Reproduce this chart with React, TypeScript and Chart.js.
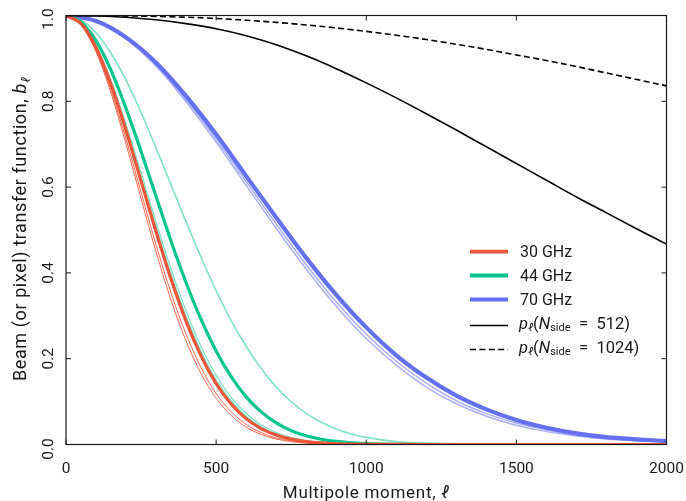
import React, { useEffect, useRef } from "react";
import { Chart, registerables } from "chart.js";

Chart.register(...registerables);

// ---------- data ----------
const ellFine = [0, 50, 100, 150, 200, 250, 300, 350, 400, 450, 500, 550, 600, 650, 700, 750, 800, 850, 900, 950, 1000, 1100, 1200, 1300, 1400, 1600, 1800, 2000];
const ellCoarse = [0, 100, 200, 300, 400, 500, 600, 700, 800, 900, 1000, 1100, 1200, 1300, 1400, 1500, 1600, 1700, 1800, 1900, 2000];

// 30 GHz (thick = average, thin = individual horns)
const b30 = [1, 0.981, 0.925, 0.839, 0.732, 0.614, 0.496, 0.385, 0.287, 0.206, 0.142, 0.0945, 0.0603, 0.0371, 0.0219, 0.0124, 0.0068, 0.0036, 0.0018, 0.0009, 0.0004, 0.0001, 0, 0, 0, 0, 0, 0];
const b30a = [1, 0.979, 0.919, 0.826, 0.712, 0.588, 0.465, 0.353, 0.257, 0.179, 0.119, 0.0764, 0.0469, 0.0276, 0.0155, 0.0084, 0.0043, 0.0022, 0.001, 0.0005, 0.0002, 0, 0, 0, 0, 0, 0, 0];
const b30b = [1, 0.978, 0.915, 0.819, 0.7, 0.573, 0.449, 0.336, 0.241, 0.165, 0.108, 0.0677, 0.0406, 0.0233, 0.0128, 0.0067, 0.0034, 0.0016, 0.0007, 0.0003, 0.0001, 0, 0, 0, 0, 0, 0, 0];

// 44 GHz
const b44 = [1, 0.985, 0.941, 0.872, 0.783, 0.683, 0.578, 0.474, 0.377, 0.291, 0.218, 0.158, 0.111, 0.076, 0.0503, 0.0323, 0.0202, 0.0122, 0.0071, 0.0041, 0.0022, 0.0006, 0.0002, 0, 0, 0, 0, 0];
const b44a = [1, 0.99, 0.96, 0.912, 0.849, 0.774, 0.691, 0.605, 0.519, 0.436, 0.359, 0.289, 0.229, 0.177, 0.134, 0.0996, 0.0725, 0.0517, 0.0361, 0.0247, 0.0166, 0.007, 0.0027, 0.001, 0.0003, 0, 0, 0];
const b44b = [1, 0.982, 0.93, 0.849, 0.747, 0.634, 0.518, 0.409, 0.311, 0.228, 0.161, 0.11, 0.0722, 0.0458, 0.028, 0.0165, 0.0094, 0.0051, 0.0027, 0.0014, 0.0007, 0.0001, 0, 0, 0, 0, 0, 0];
const b44c = [1, 0.981, 0.927, 0.844, 0.739, 0.624, 0.507, 0.397, 0.299, 0.217, 0.151, 0.102, 0.066, 0.0412, 0.0247, 0.0143, 0.008, 0.0043, 0.0022, 0.0011, 0.0005, 0.0001, 0, 0, 0, 0, 0, 0];

// 70 GHz
const b70 = [1, 0.987, 0.949, 0.89, 0.812, 0.723, 0.626, 0.529, 0.435, 0.349, 0.273, 0.208, 0.156, 0.114, 0.082, 0.057, 0.039, 0.026, 0.017, 0.012, 0.008];
const b70a = [1, 0.986, 0.947, 0.885, 0.804, 0.712, 0.613, 0.514, 0.419, 0.332, 0.257, 0.194, 0.143, 0.102, 0.072, 0.05, 0.034, 0.022, 0.015, 0.01, 0.007];
const b70b = [1, 0.986, 0.945, 0.882, 0.799, 0.705, 0.604, 0.504, 0.409, 0.322, 0.247, 0.185, 0.134, 0.095, 0.066, 0.045, 0.03, 0.02, 0.013, 0.009, 0.006];

// pixel window functions
const p512 = [1, 0.999, 0.996, 0.99, 0.981, 0.969, 0.953, 0.932, 0.906, 0.876, 0.843, 0.808, 0.771, 0.733, 0.694, 0.655, 0.616, 0.577, 0.54, 0.503, 0.467];
const p1024 = [1, 1, 0.999, 0.998, 0.996, 0.993, 0.989, 0.984, 0.978, 0.971, 0.963, 0.954, 0.944, 0.933, 0.921, 0.908, 0.895, 0.881, 0.866, 0.851, 0.836];

const xTicks = [0, 500, 1000, 1500, 2000];
const yTicks = [0, 0.2, 0.4, 0.6, 0.8, 1.0];
const xTickLabels = ["0", "500", "1000", "1500", "2000"];
const yTickLabels = ["0.0", "0.2", "0.4", "0.6", "0.8", "1.0"];
const freqLabels = ["30 GHz", "44 GHz", "70 GHz"];
const nsideLabels = ["512", "1024"];

// ---------- styles ----------
const RED = "#ef5539";
const RED_THIN = "#f06a50";
const GREEN = "#00c58d";
const GREEN_LIGHT = "#80e0c3";
const BLUE = "#6470f0";
const BLUE_LIGHT = "#a9b0f6";
const INK = "#1a1a1a";
const FONT = 'Roboto, "DejaVu Sans", sans-serif';

const pts = (xs: number[], ys: number[]) => xs.map((x, i) => ({ x, y: ys[i] }));

type Part = { t: string; font: string; dy?: number };

function richWidth(ctx: CanvasRenderingContext2D, parts: Part[]) {
  let w = 0;
  for (const p of parts) {
    ctx.font = p.font;
    w += ctx.measureText(p.t).width;
  }
  return w;
}

function drawRich(ctx: CanvasRenderingContext2D, parts: Part[], x: number, y: number) {
  let cx = x;
  for (const p of parts) {
    ctx.font = p.font;
    ctx.fillText(p.t, cx, y + (p.dy || 0));
    cx += ctx.measureText(p.t).width;
  }
}

const overlay = {
  id: "overlay",
  afterDatasetsDraw(chart: any) {
    const { ctx, chartArea } = chart;
    const { left, right, top, bottom } = chartArea;
    const xs = chart.scales.x;
    const ys = chart.scales.y;
    ctx.save();
    // frame
    ctx.strokeStyle = INK;
    ctx.lineWidth = 1.2;
    ctx.setLineDash([]);
    ctx.strokeRect(left, top, right - left, bottom - top);
    // inward ticks
    ctx.lineWidth = 1;
    ctx.beginPath();
    xTicks.forEach((v) => {
      const px = xs.getPixelForValue(v);
      ctx.moveTo(px, bottom);
      ctx.lineTo(px, bottom - 5);
      ctx.moveTo(px, top);
      ctx.lineTo(px, top + 5);
    });
    yTicks.forEach((v) => {
      const py = ys.getPixelForValue(v);
      ctx.moveTo(left, py);
      ctx.lineTo(left + 5, py);
      ctx.moveTo(right, py);
      ctx.lineTo(right - 5, py);
    });
    ctx.stroke();

    ctx.fillStyle = INK;
    const tickFont = `15.5px ${FONT}`;
    // x tick labels
    ctx.font = tickFont;
    ctx.textAlign = "center";
    ctx.textBaseline = "alphabetic";
    xTicks.forEach((v, i) => {
      ctx.fillText(xTickLabels[i], xs.getPixelForValue(v), 473);
    });
    // y tick labels (rotated)
    yTicks.forEach((v, i) => {
      let py = ys.getPixelForValue(v);
      if (i === 0) py += 4.5;
      if (i === yTicks.length - 1) py += 3.5;
      ctx.save();
      ctx.translate(53, py);
      ctx.rotate(-Math.PI / 2);
      ctx.textAlign = "center";
      ctx.fillText(yTickLabels[i], 0, 0);
      ctx.restore();
    });

    // axis titles
    ctx.textAlign = "left";
    (ctx as any).letterSpacing = "0.7px";
    const xt: Part[] = [
      { t: "Multipole moment, ", font: `17px ${FONT}` },
      { t: "\u2113", font: `italic 17px ${FONT}` },
    ];
    const xw = richWidth(ctx, xt);
    drawRich(ctx, xt, (left + right) / 2 - xw / 2, 498);

    (ctx as any).letterSpacing = "0.6px";
    const yt: Part[] = [
      { t: "Beam (or pixel) transfer function, ", font: `18px ${FONT}` },
      { t: "b", font: `italic 18px ${FONT}` },
      { t: "\u2113", font: `italic 12px ${FONT}`, dy: 4 },
    ];
    const yw = richWidth(ctx, yt);
    ctx.save();
    ctx.translate(25.5, (top + bottom) / 2 - 1);
    ctx.rotate(-Math.PI / 2);
    drawRich(ctx, yt, -yw / 2, 0);
    ctx.restore();
    (ctx as any).letterSpacing = "0px";

    // legend
    const lx0 = 470;
    const lx1 = 508;
    const tx = 520;
    const rowsY = [251.7, 275.5, 299.5, 325.5, 349.5];
    const colors = [RED, GREEN, BLUE];
    ctx.textBaseline = "middle";
    freqLabels.forEach((lab, i) => {
      ctx.strokeStyle = colors[i];
      ctx.lineWidth = 3.8;
      ctx.setLineDash([]);
      ctx.beginPath();
      ctx.moveTo(lx0, rowsY[i]);
      ctx.lineTo(lx1, rowsY[i]);
      ctx.stroke();
      ctx.font = `16px ${FONT}`;
      ctx.fillStyle = INK;
      ctx.fillText(lab, tx, rowsY[i] + 1);
    });
    nsideLabels.forEach((lab, j) => {
      const ry = rowsY[3 + j];
      ctx.strokeStyle = "#000";
      ctx.lineWidth = 1.6;
      ctx.setLineDash(j === 0 ? [] : [6, 3.4]);
      ctx.beginPath();
      ctx.moveTo(lx0, ry);
      ctx.lineTo(lx1, ry);
      ctx.stroke();
      ctx.setLineDash([]);
      ctx.fillStyle = INK;
      const parts: Part[] = [
        { t: "p", font: `italic 16.5px ${FONT}` },
        { t: "\u2113", font: `italic 11px ${FONT}`, dy: 4 },
        { t: "(", font: `16.5px ${FONT}` },
        { t: "N", font: `italic 16.5px ${FONT}` },
        { t: "side", font: `11px ${FONT}`, dy: 4 },
        { t: "\u2002=\u2002" + lab + ")", font: `16.5px ${FONT}` },
      ];
      drawRich(ctx, parts, tx - 1, ry - 1);
    });
    ctx.restore();
  },
};

export default function App() {
  const ref = useRef<HTMLCanvasElement | null>(null);

  useEffect(() => {
    document.body.style.margin = "0";
    const canvas = ref.current;
    if (!canvas) return;
    const line = (data: any[], color: string, width: number, order: number, dash: number[] = []) => ({
      data,
      borderColor: color,
      backgroundColor: color,
      borderWidth: width,
      borderDash: dash,
      pointRadius: 0,
      fill: false,
      cubicInterpolationMode: "monotone" as const,
      order,
    });
    const chart = new Chart(canvas, {
      type: "line",
      data: {
        datasets: [
          line(pts(ellCoarse, p512), "#000", 1.6, 0),
          line(pts(ellCoarse, p1024), "#000", 1.6, 0, [6, 3.4]),
          line(pts(ellFine, b30), RED, 3.2, 1),
          line(pts(ellFine, b44), GREEN, 3.2, 1),
          line(pts(ellCoarse, b70), BLUE, 4.2, 1),
          line(pts(ellFine, b30a), RED_THIN, 1, 3),
          line(pts(ellFine, b30b), RED_THIN, 1, 3),
          line(pts(ellFine, b44a), GREEN_LIGHT, 1.6, 2),
          line(pts(ellFine, b44b), GREEN_LIGHT, 1.2, 2),
          line(pts(ellFine, b44c), GREEN_LIGHT, 1.2, 2),
          line(pts(ellCoarse, b70a), BLUE_LIGHT, 1.5, 2),
          line(pts(ellCoarse, b70b), BLUE_LIGHT, 1.5, 2),
        ],
      },
      options: {
        responsive: false,
        maintainAspectRatio: false,
        animation: false,
        devicePixelRatio: 1,
        parsing: false as any,
        layout: { padding: { left: 66, right: 19.5, top: 15.5, bottom: 56.5 } },
        plugins: { legend: { display: false }, tooltip: { enabled: false } },
        scales: {
          x: { type: "linear", min: 0, max: 2000, display: false },
          y: { type: "linear", min: 0, max: 1, display: false },
        },
      },
      plugins: [overlay],
    });
    return () => chart.destroy();
  }, []);

  return (
    <div style={{ width: 686, height: 501, background: "#fff" }}>
      <canvas ref={ref} width={686} height={501} style={{ display: "block", width: 686, height: 501 }} />
    </div>
  );
}
